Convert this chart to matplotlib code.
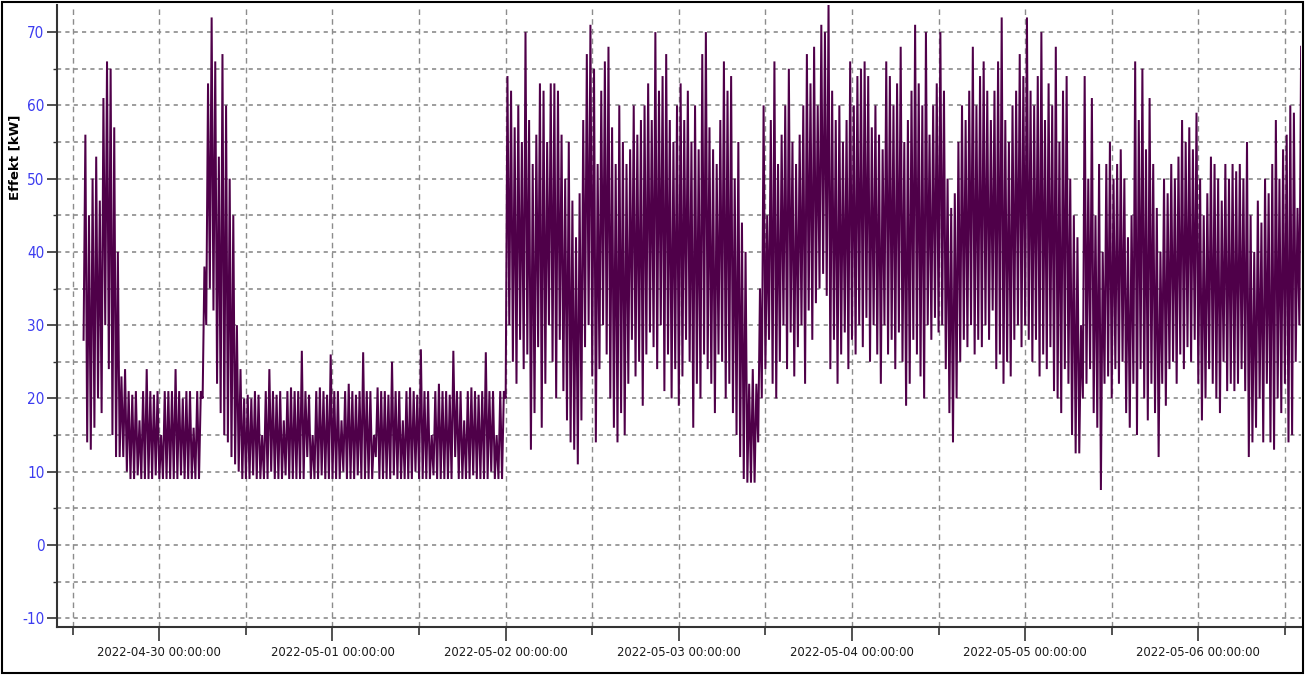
import matplotlib
matplotlib.use('Agg')
import matplotlib.pyplot as plt
import matplotlib.dates as mdates
from matplotlib import font_manager
from matplotlib.patches import Rectangle
from matplotlib.ticker import MultipleLocator
import numpy as np
import pandas as pd

plt.rcParams['axes.unicode_minus'] = False

# first half-hour bin of the log
start = '2022-04-29 13:30'

# per half-hour: lowest and highest reading (kW)
low_kw = [
    # 2022-04-29
    28, 14, 13, 16, 20, 18, 30, 24, 15, 12, 12,
    12, 10, 9, 9, 9.5, 9, 9, 9, 9, 9.5, 9, 9, 9, 9, 9, 9, 9.5, 9, 9, 9, 9, 9,
    20, 30, 35, 32, 22, 18, 15, 14, 12, 11, 10,
    # 2022-04-30 06:00 -> 2022-05-02
    9, 9, 9, 9.5, 9, 9, 9,
    9, 10, 9, 9, 9, 9.5, 9, 9,
    9, 9, 9, 12, 9, 9, 9, 9.5,
    9, 9, 9, 9, 9, 10, 9, 9,
    9, 9.5, 9, 9, 9, 9, 12, 9,
    9, 9, 9, 9.5, 9, 9, 9, 9,
    9, 10, 9, 9, 9, 9, 9.5, 9,
    9, 9, 9, 9, 12, 9, 9, 9,
    9, 9.5, 9, 9, 9, 9, 10, 9,
    9, 9,
    # 2022-05-02
    20, 30, 25, 22, 28, 24, 26, 13, 18, 27, 16, 22, 30, 25, 20, 28, 21, 17, 14, 13, 11, 17, 27, 30, 23,
    14, 24, 30, 26, 20, 16, 14, 18, 15, 22, 28, 23, 25, 19, 26, 29, 27, 24, 30, 21, 26, 20, 24, 19,
    # 2022-05-03
    23, 28, 25, 16, 22, 20, 26, 24, 22, 18, 26, 25, 20, 22, 18, 15, 12, 9, 8.5, 8.5, 8.5, 14, 20, 24,
    28, 22, 20, 25, 30, 24, 29, 23, 27, 30, 22, 32, 28, 33, 35, 37, 34, 24, 28, 22, 26, 29, 24, 28,
    # 2022-05-04
    26, 30, 27, 31, 25, 30, 26, 22, 30, 26, 28, 24, 29, 25, 19, 22, 28, 26, 23, 20, 30, 28, 31, 29,
    30, 24, 18, 14, 20, 25, 28, 27, 30, 26, 28, 27, 30, 28, 32, 24, 26, 22, 25, 23, 28, 30, 27, 30,
    # 2022-05-05
    28, 25, 28, 23, 26, 24, 27, 21, 20, 18, 24, 22, 15, 12.5, 12.5, 20, 22, 24, 18, 16, 7.5, 22, 23, 20,
    24, 22, 25, 18, 16, 22, 15, 24, 20, 17, 22, 18, 12, 22, 19, 24, 25, 22, 26, 24, 27, 25, 28, 22,
    # 2022-05-06
    17, 20, 24, 22, 20, 18, 25, 21, 22, 21, 22, 24, 21, 12, 14, 16, 20, 14, 22, 14, 13, 20, 18, 22,
    14, 15, 25, 30,
]

high_kw = [
    # 2022-04-29
    56, 45, 50, 53, 47, 61, 66, 65, 57, 40, 23,
    24, 21, 20.5, 21, 17, 21, 24, 21, 20.5, 21, 15, 21, 21, 21, 24, 21, 20, 21, 21, 16, 21, 21,
    38, 63, 72, 66, 53, 67, 60, 50, 45, 30, 24,
    # 2022-04-30 06:00 -> 2022-05-02
    20, 20.5, 20, 21, 20.5, 15, 21,
    24, 21, 20.5, 21, 17, 21, 21.5, 21,
    21, 26.5, 21, 20.5, 15, 21, 21.5, 21,
    20.5, 26, 21, 21, 17, 21, 22, 21,
    20.5, 21, 26.3, 21, 21, 15, 21.5, 21,
    21, 20.5, 25, 21, 21, 17, 21, 21.5,
    21, 20.5, 26.7, 21, 21, 15, 21, 22,
    21, 21, 20.5, 26.5, 21, 21, 17, 21,
    21.5, 21, 20.5, 21, 26.3, 21, 21, 15,
    21, 21,
    # 2022-05-02
    64, 62, 57, 60, 55, 70, 58, 52, 56, 63, 62, 55, 63, 63, 62, 56, 50, 55, 47, 42, 48, 58, 67, 71, 65,
    52, 62, 66, 68, 57, 52, 60, 55, 52, 54, 60, 56, 58, 60, 63, 58, 70, 62, 64, 67, 58, 55, 60, 63,
    # 2022-05-03
    58, 62, 55, 60, 54, 67, 70, 57, 54, 52, 58, 66, 62, 64, 50, 55, 44, 40, 22, 24, 22, 35, 60, 45,
    58, 66, 52, 56, 60, 65, 55, 52, 56, 60, 67, 63, 68, 60, 71, 70, 74, 62, 58, 60, 55, 58, 66, 60,
    # 2022-05-04
    64, 65, 66, 64, 57, 60, 56, 54, 66, 64, 60, 63, 68, 55, 58, 62, 71, 63, 60, 70, 56, 60, 63, 70,
    62, 50, 46, 48, 55, 60, 58, 62, 68, 60, 64, 66, 62, 58, 62, 66, 72, 58, 55, 60, 62, 67, 64, 72,
    # 2022-05-05
    62, 60, 64, 70, 58, 63, 60, 68, 55, 62, 64, 50, 45, 42, 30, 64, 50, 61, 45, 52, 40, 52, 55, 50,
    52, 54, 50, 42, 45, 66, 58, 65, 54, 61, 52, 46, 40, 50, 48, 52, 50, 53, 58, 55, 57, 54, 59, 50,
    # 2022-05-06
    45, 48, 53, 52, 50, 47, 52, 50, 52, 51, 52, 50, 55, 45, 40, 47, 44, 50, 48, 52, 58, 50, 54, 56,
    60, 59, 46, 68,
]

# low then high inside every half hour, 15 min apart
t = pd.date_range(start, periods=2 * len(low_kw), freq='15min')
p = np.column_stack([low_kw, high_kw]).ravel()

# narrow font for the tick labels if one is installed
names = {f.name for f in font_manager.fontManager.ttflist}
if 'Liberation Sans Narrow' in names:
    tick_font = dict(family='Liberation Sans Narrow')
    xsize, ysize = 11, 12
else:
    tick_font = dict(family='DejaVu Sans', stretch='condensed')
    xsize, ysize = 9.4, 11

fig = plt.figure(figsize=(13.05, 6.75), dpi=100)
ax = fig.add_axes([57 / 1305, 48 / 675, 1244 / 1305, 622 / 675])
ax.set_axisbelow(True)

ax.plot(t, p, color='#4f0049', lw=1.45, solid_joinstyle='miter')

ax.set_xlim(pd.Timestamp('2022-04-29 09:49'), pd.Timestamp('2022-05-06 14:14'))
ax.set_ylim(-11.2, 73.7)

ax.xaxis.set_major_locator(mdates.DayLocator())
ax.xaxis.set_minor_locator(mdates.HourLocator(byhour=[12]))
ax.xaxis.set_major_formatter(mdates.DateFormatter('%Y-%m-%d %H:%M:%S'))
ax.yaxis.set_major_locator(MultipleLocator(10))
ax.yaxis.set_minor_locator(MultipleLocator(5))

ax.xaxis.grid(True, which='both', color='#8c8c8c', ls=(0, (4, 3)), lw=1)
ax.yaxis.grid(True, which='both', color='#8c8c8c', ls=(0, (2.5, 2.5)), lw=1.2)

for s in ['top', 'right']:
    ax.spines[s].set_visible(False)
for s in ['left', 'bottom']:
    ax.spines[s].set_color('#333333')
    ax.spines[s].set_linewidth(1.5)

ax.tick_params(axis='x', which='major', length=10, width=1.2, pad=4,
               labelsize=xsize, labelcolor='#1a1a1a', color='#333333')
ax.tick_params(axis='x', which='minor', length=6, width=1.2, color='#333333')
ax.tick_params(axis='y', which='major', length=7, width=1.2, pad=2,
               labelsize=ysize, labelcolor='#3c3cf0', color='#333333')
ax.tick_params(axis='y', which='minor', length=3, width=1, color='#333333')
for lab in ax.get_xticklabels() + ax.get_yticklabels():
    lab.set(**tick_font)

fig.text(15 / 1305, 1 - 157 / 675, 'Effekt [kW]', rotation=90, fontweight='bold',
         fontsize=9.5, ha='center', va='center')

# frame round the whole picture
fig.patches.append(Rectangle((0.0015, 0.003), 0.997, 0.994, transform=fig.transFigure,
                             fill=False, ec='black', lw=1.5))

fig.savefig('out.png', dpi=100)
